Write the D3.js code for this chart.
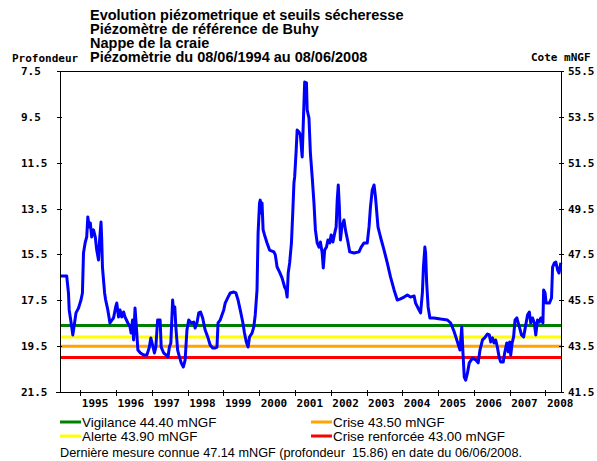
<!DOCTYPE html>
<html>
  <head>
    <meta charset="utf-8">
    <title>Piézomètre de Buhy</title>
    <script src="https://cdn.jsdelivr.net/npm/d3@7"></script>
    <style type="text/css">
      body {
        margin: 0;
        background: #ffffff;
      }

      .title {
        font-family: "Liberation Sans", Arial, sans-serif;
        font-weight: bold;
        font-size: 14.5px;
      }

      .mono {
        font-family: "DejaVu Sans Mono", monospace;
        font-weight: bold;
        font-size: 11px;
      }

      .legend {
        font-family: "Liberation Sans", Arial, sans-serif;
        font-size: 13.4px;
      }

      .note {
        font-family: "Liberation Sans", Arial, sans-serif;
        font-size: 12.7px;
      }

      .axis path, .axis line {
        stroke: #000;
        shape-rendering: crispEdges;
      }
    </style>
  </head>
<body>
  <div id="chart"></div>
  <script type="text/javascript">
    var width = 597, height = 461;

    // decimal years and depth below ground (m)
    var years = [1994.44, 1994.62, 1994.67, 1994.69, 1994.76, 1994.79, 1994.84, 1994.88, 1994.95, 1995.02,
      1995.06, 1995.09, 1995.14, 1995.18, 1995.21, 1995.25, 1995.28, 1995.32, 1995.37, 1995.42,
      1995.46, 1995.51, 1995.54, 1995.58, 1995.60, 1995.62, 1995.68, 1995.71, 1995.77, 1995.83,
      1995.93, 1995.99, 1996.02, 1996.07, 1996.11, 1996.16, 1996.21, 1996.25, 1996.33, 1996.39,
      1996.42, 1996.46, 1996.49, 1996.53, 1996.56, 1996.61, 1996.68, 1996.77, 1996.86, 1996.93,
      1996.97, 1997.02, 1997.07, 1997.11, 1997.16, 1997.23, 1997.26, 1997.33, 1997.40, 1997.45,
      1997.49, 1997.53, 1997.58, 1997.61, 1997.64, 1997.67, 1997.72, 1997.77, 1997.82, 1997.88,
      1997.93, 1997.98, 1998.03, 1998.10, 1998.17, 1998.21, 1998.26, 1998.31, 1998.36, 1998.42,
      1998.49, 1998.57, 1998.63, 1998.70, 1998.77, 1998.82, 1998.85, 1998.91, 1998.96, 1999.01,
      1999.05, 1999.13, 1999.19, 1999.29, 1999.35, 1999.41, 1999.47, 1999.54, 1999.59, 1999.64,
      1999.69, 1999.73, 1999.80, 1999.85, 1999.89, 1999.94, 1999.97, 2000.01, 2000.03, 2000.06,
      2000.08, 2000.11, 2000.15, 2000.22, 2000.29, 2000.41, 2000.45, 2000.50, 2000.57, 2000.64,
      2000.71, 2000.75, 2000.78, 2000.81, 2000.85, 2000.90, 2000.94, 2000.97, 2000.99, 2001.03,
      2001.06, 2001.11, 2001.15, 2001.20, 2001.25, 2001.27, 2001.32, 2001.34, 2001.39, 2001.43,
      2001.48, 2001.53, 2001.57, 2001.62, 2001.67, 2001.71, 2001.76, 2001.79, 2001.83, 2001.88,
      2001.92, 2001.97, 2002.01, 2002.06, 2002.11, 2002.15, 2002.18, 2002.21, 2002.24, 2002.27,
      2002.31, 2002.37, 2002.41, 2002.48, 2002.53, 2002.65, 2002.79, 2002.85, 2002.93, 2003.02,
      2003.07, 2003.11, 2003.16, 2003.21, 2003.25, 2003.32, 2003.39, 2003.49, 2003.58, 2003.67,
      2003.77, 2003.86, 2003.95, 2004.05, 2004.14, 2004.23, 2004.33, 2004.37, 2004.44, 2004.51,
      2004.56, 2004.59, 2004.63, 2004.65, 2004.68, 2004.72, 2004.77, 2004.88, 2005.07, 2005.26,
      2005.35, 2005.45, 2005.54, 2005.61, 2005.66, 2005.69, 2005.73, 2005.77, 2005.82, 2005.87,
      2005.96, 2006.05, 2006.12, 2006.17, 2006.24, 2006.30, 2006.38, 2006.43, 2006.47, 2006.52,
      2006.56, 2006.61, 2006.66, 2006.71, 2006.75, 2006.82, 2006.86, 2006.92, 2006.96, 2007.00,
      2007.03, 2007.07, 2007.11, 2007.15, 2007.20, 2007.27, 2007.33, 2007.39, 2007.44, 2007.50,
      2007.55, 2007.59, 2007.64, 2007.69, 2007.73, 2007.78, 2007.83, 2007.87, 2007.93, 2007.95,
      2007.99, 2008.02, 2008.11, 2008.17, 2008.20, 2008.25, 2008.29, 2008.34, 2008.38, 2008.43];

    var depths = [16.44, 16.44, 17.19, 17.92, 18.65, 19.01, 18.49, 18.05, 17.84, 17.49,
      17.18, 15.44, 14.96, 14.74, 13.87, 14.30, 14.13, 14.74, 14.43, 14.74,
      15.31, 15.74, 14.87, 14.09, 14.87, 16.05, 17.18, 17.49, 17.92, 18.49,
      18.27, 17.79, 17.62, 18.23, 17.92, 18.23, 18.01, 18.23, 18.49, 18.66,
      18.93, 18.36, 19.23, 17.84, 18.49, 19.67, 19.80, 19.89, 19.89, 19.54,
      19.14, 19.45, 19.80, 19.54, 18.36, 18.36, 19.54, 19.80, 19.89, 19.97,
      19.54, 19.36, 17.49, 18.05, 17.79, 18.66, 19.67, 19.97, 20.23, 20.41,
      20.10, 18.80, 18.36, 18.49, 18.45, 18.71, 18.49, 18.05, 18.01, 18.27,
      18.80, 19.14, 19.45, 19.58, 19.58, 19.54, 18.49, 18.36, 18.14, 17.92,
      17.62, 17.36, 17.18, 17.14, 17.18, 17.49, 17.92, 18.45, 18.93, 19.32,
      19.54, 19.10, 18.93, 18.66, 18.14, 17.05, 14.57, 13.26, 13.13, 13.69,
      13.26, 14.43, 14.65, 15.00, 15.31, 15.39, 15.52, 16.05, 16.27, 16.53,
      16.92, 17.05, 17.36, 16.31, 15.87, 15.00, 13.56, 12.38, 12.12, 11.03,
      10.07, 10.16, 10.29, 11.25, 8.90, 7.98, 8.02, 9.20, 9.55, 11.08,
      12.12, 13.26, 14.43, 15.00, 15.18, 14.96, 15.44, 16.09, 15.31, 15.18,
      14.87, 15.00, 14.65, 14.96, 14.57, 14.30, 13.13, 12.47, 13.43, 14.87,
      14.30, 14.00, 14.43, 14.96, 15.39, 15.44, 15.39, 15.18, 15.00, 15.00,
      14.30, 13.43, 12.69, 12.47, 12.99, 14.30, 14.74, 15.31, 15.87, 16.48,
      17.05, 17.49, 17.44, 17.36, 17.27, 17.36, 17.31, 17.62, 17.84, 18.05,
      17.18, 16.05, 15.18, 15.44, 16.75, 17.79, 18.27, 18.27, 18.32, 18.36,
      18.49, 18.88, 19.32, 19.67, 18.66, 19.67, 20.85, 20.98, 20.67, 20.23,
      20.02, 20.10, 20.23, 19.67, 19.23, 19.14, 18.97, 19.01, 19.32, 19.14,
      19.36, 19.23, 19.58, 20.02, 20.19, 20.19, 19.80, 19.36, 19.75, 19.32,
      19.89, 19.36, 19.10, 18.36, 18.27, 18.66, 19.01, 19.10, 18.66, 18.14,
      18.01, 18.49, 18.27, 18.49, 19.01, 18.36, 18.45, 18.27, 18.49, 17.05,
      17.18, 17.62, 17.62, 17.40, 16.05, 15.87, 15.83, 16.18, 16.31, 15.86];

    // seuils sécheresse (cote mNGF)
    var seuilLabels = ["Vigilance 44.40 mNGF", "Alerte 43.90 mNGF", "Crise 43.50 mNGF", "Crise renforcée 43.00 mNGF"];
    var seuilCotes = [44.40, 43.90, 43.50, 43.00];
    var seuilColors = ["#008000", "#ffff00", "#ffa500", "#ff0000"];

    var depthTicks = [7.5, 9.5, 11.5, 13.5, 15.5, 17.5, 19.5, 21.5];
    var coteTicks = [55.5, 53.5, 51.5, 49.5, 47.5, 45.5, 43.5, 41.5];

    var titleLines = ["Evolution piézometrique et seuils sécheresse",
      "Piézomètre de référence de Buhy",
      "Nappe de la craie",
      "Piézomètrie du 08/06/1994 au 08/06/2008"];

    var reference = 63; // cote du repère : cote = 63 - profondeur

    function decYear(v) {
      var yr = Math.floor(v);
      var start = new Date(yr, 0, 1), end = new Date(yr + 1, 0, 1);
      return new Date(+start + (v - yr) * (end - start));
    }

    var data = years.map(function(v, i) { return {date: decYear(v), depth: depths[i]}; });

    var plotLeft = 60, plotRight = 561, plotTop = 71, plotBottom = 392;

    var x = d3.scaleTime()
      .domain([new Date(1994, 5, 8), new Date(2008, 5, 8)])
      .range([plotLeft, plotRight]);
    var y = d3.scaleLinear().domain([7.5, 21.5]).range([plotTop, plotBottom]);
    var y2 = d3.scaleLinear().domain([55.5, 41.5]).range([plotTop, plotBottom]);

    var svg = d3.select("#chart")
      .append("svg")
      .attr("width", width)
      .attr("height", height);

    // titre
    svg.append("g").selectAll("text")
      .data(titleLines)
      .enter().append("text")
      .attr("class", "title")
      .attr("x", 90)
      .attr("y", function(d, i) { return 20 + i * 14; })
      .text(function(d) { return d; });

    svg.append("text").attr("class", "mono").attr("x", 12).attr("y", 62).text("Profondeur");
    svg.append("text").attr("class", "mono").attr("x", 531).attr("y", 61).text("Cote mNGF");

    // seuils
    svg.append("g").selectAll("line")
      .data(seuilCotes)
      .enter().append("line")
      .attr("x1", plotLeft).attr("x2", plotRight)
      .attr("y1", function(d) { return y2(d); })
      .attr("y2", function(d) { return y2(d); })
      .attr("stroke", function(d, i) { return seuilColors[i]; })
      .attr("stroke-width", 3);

    // courbe piézométrique
    var line = d3.line()
      .x(function(d) { return x(d.date); })
      .y(function(d) { return y(d.depth); });

    svg.append("path")
      .datum(data)
      .attr("fill", "none")
      .attr("stroke", "#0000ff")
      .attr("stroke-width", 3)
      .attr("stroke-linejoin", "round")
      .attr("d", line);

    // cadre
    svg.append("rect")
      .attr("x", plotLeft).attr("y", plotTop)
      .attr("width", plotRight - plotLeft).attr("height", plotBottom - plotTop)
      .attr("fill", "none")
      .attr("stroke", "#000")
      .attr("shape-rendering", "crispEdges");

    var yAxis = svg.append("g")
      .attr("class", "axis mono")
      .attr("transform", "translate(" + plotLeft + ",0)")
      .call(d3.axisLeft(y).tickValues(depthTicks).tickSize(3).tickSizeOuter(0).tickFormat(d3.format(".1f")));
    yAxis.select(".domain").remove();
    yAxis.selectAll(".tick line").attr("x1", -3).attr("x2", 2);
    yAxis.selectAll(".tick text")
      .attr("text-anchor", "start")
      .attr("x", 21 - plotLeft)
      .attr("fill", "#000");

    var y2Axis = svg.append("g")
      .attr("class", "axis mono")
      .attr("transform", "translate(" + plotRight + ",0)")
      .call(d3.axisRight(y2).tickValues(coteTicks).tickSize(3).tickSizeOuter(0).tickFormat(d3.format(".1f")));
    y2Axis.select(".domain").remove();
    y2Axis.selectAll(".tick line").attr("x1", -2).attr("x2", 3);
    y2Axis.selectAll(".tick text")
      .attr("x", 7)
      .attr("fill", "#000");

    var xAxis = svg.append("g")
      .attr("class", "axis mono")
      .attr("transform", "translate(0," + plotBottom + ")")
      .call(d3.axisBottom(x).ticks(d3.timeYear).tickSize(4).tickSizeOuter(0).tickFormat(d3.timeFormat("%Y")));
    xAxis.select(".domain").attr("d", "M" + (plotLeft - 4) + ",0H" + plotRight);
    xAxis.selectAll(".tick line").attr("y1", -2).attr("y2", 4);
    xAxis.selectAll(".tick text")
      .attr("text-anchor", "start")
      .attr("x", 1)
      .attr("y", 15)
      .attr("dy", null)
      .attr("fill", "#000");
    svg.selectAll(".axis").attr("font-family", null).attr("font-size", null);

    // légende
    var legendPos = [[60, 422], [60, 436], [311, 422], [311, 436]];
    var legend = svg.append("g").selectAll("g")
      .data(seuilLabels)
      .enter().append("g")
      .attr("transform", function(d, i) { return "translate(" + legendPos[i][0] + "," + legendPos[i][1] + ")"; });
    legend.append("line")
      .attr("x1", 0).attr("x2", 21)
      .attr("stroke", function(d, i) { return seuilColors[i]; })
      .attr("stroke-width", 3);
    legend.append("text")
      .attr("class", "legend")
      .attr("x", 22)
      .attr("y", 4.5)
      .text(function(d) { return d; });

    var last = data[data.length - 1];
    svg.append("text")
      .attr("class", "note")
      .attr("x", 60)
      .attr("y", 457)
      .attr("xml:space", "preserve")
      .style("white-space", "pre")
      .text("Dernière mesure connue " + (reference - last.depth).toFixed(2) + " mNGF (profondeur  " + last.depth.toFixed(2) + ") en date du 06/06/2008.");
  </script>
</body>
</html>
